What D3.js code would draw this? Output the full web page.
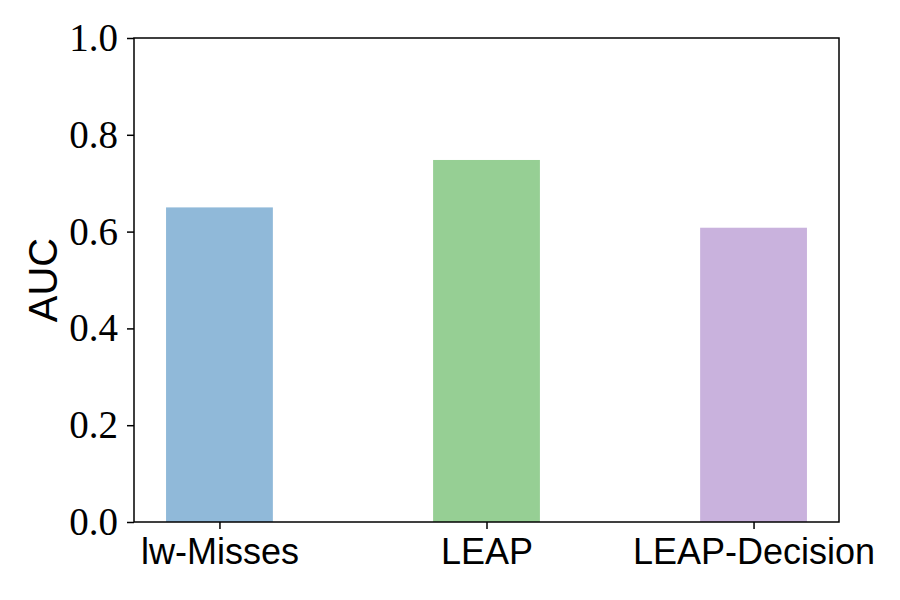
<!DOCTYPE html>
<html>
<head>
<meta charset="utf-8">
<script src="https://cdn.jsdelivr.net/npm/d3@7"></script>
<style>
  body { margin: 0; background: #fff; }
  .tick-num { font-family: "Liberation Serif", "DejaVu Serif", serif; }
  .sans { font-family: "Liberation Sans", sans-serif; }
</style>
</head>
<body>
<svg id="chart"></svg>
<script>
const categories = ["lw-Misses", "LEAP", "LEAP-Decision"];
const aucValues = [0.650, 0.748, 0.608];
const barColors = ["#90b9d9", "#96cf94", "#c9b2dd"];
const yTicks = [0.0, 0.2, 0.4, 0.6, 0.8, 1.0];

const width = 900, height = 600;
const margin = { top: 38, right: 61, bottom: 78, left: 134 };
const innerW = width - margin.left - margin.right;
const innerH = height - margin.top - margin.bottom;

const svg = d3.select("#chart").attr("width", width).attr("height", height);
const chart = svg.append("g")
  .attr("transform", `translate(${margin.left},${margin.top})`);

// bar index positions, matplotlib-style padding around width-0.4 bars
const barWidth = 0.4;
const x = d3.scaleLinear().domain([-0.32, categories.length - 1 + 0.32]).range([0, innerW]);
const y = d3.scaleLinear().domain([0, 1]).range([innerH, 0]);

chart.selectAll("rect.bar")
  .data(aucValues)
  .join("rect")
  .attr("class", "bar")
  .attr("x", (d, i) => x(i - barWidth / 2))
  .attr("width", x(barWidth) - x(0))
  .attr("y", d => y(d))
  .attr("height", d => innerH - y(d))
  .attr("fill", (d, i) => barColors[i]);

// y axis
const yAxis = d3.axisLeft(y).tickValues(yTicks).tickFormat(d3.format(".1f")).tickSize(7).tickPadding(9);
const yg = chart.append("g").call(yAxis);
yg.attr("font-size", null).attr("font-family", null);
yg.select(".domain").remove();
yg.selectAll("line").attr("stroke", "#000").attr("stroke-width", 1.5);
yg.selectAll("text").attr("class", "tick-num").style("font-size", "39px").attr("fill", "#000");

// x axis
const xAxis = d3.axisBottom(x).tickValues(d3.range(categories.length))
  .tickFormat(i => categories[i]).tickSize(7).tickPadding(9);
const xg = chart.append("g").attr("transform", `translate(0,${innerH})`).call(xAxis);
xg.attr("font-size", null).attr("font-family", null);
xg.select(".domain").remove();
xg.selectAll("line").attr("stroke", "#000").attr("stroke-width", 1.5);
xg.selectAll("text").attr("class", "sans").style("font-size", "36px").attr("fill", "#000");

// frame
chart.append("rect")
  .attr("width", innerW).attr("height", innerH)
  .attr("fill", "none").attr("stroke", "#000").attr("stroke-width", 1.5);

svg.append("text")
  .attr("class", "sans")
  .attr("transform", `translate(57,${margin.top + innerH / 2}) rotate(-90)`)
  .attr("text-anchor", "middle")
  .style("font-size", "40px")
  .text("AUC");
</script>
</body>
</html>
